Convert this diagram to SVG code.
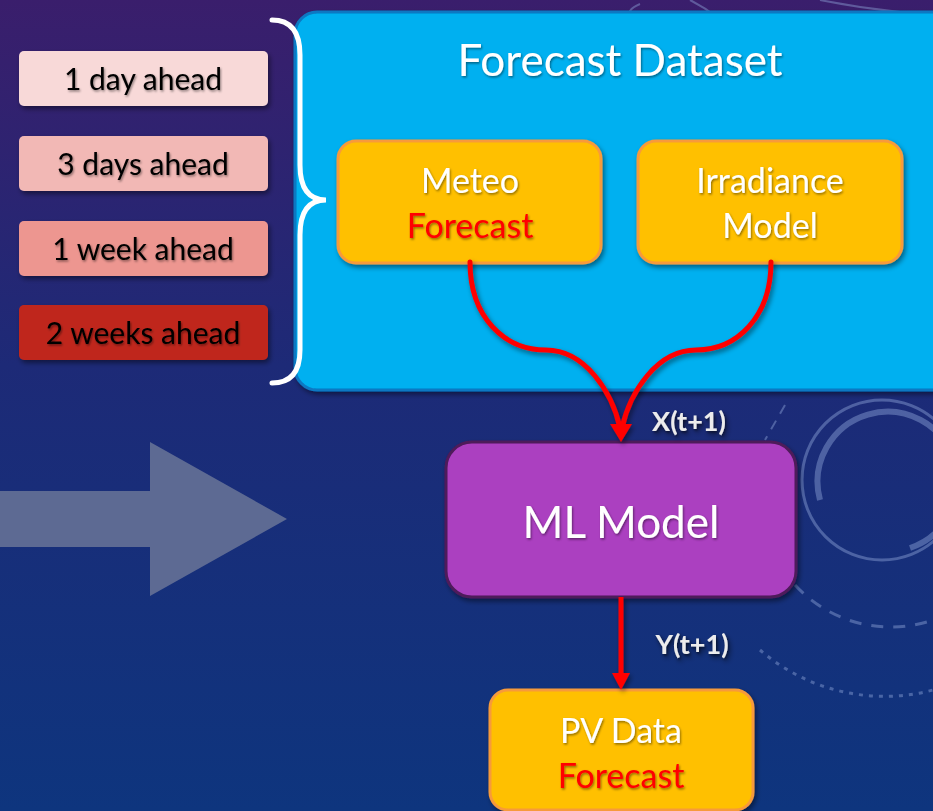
<svg xmlns="http://www.w3.org/2000/svg" width="933" height="811" viewBox="0 0 933 811">
<defs>
<linearGradient id="bg" x1="0" y1="0" x2="0" y2="1">
<stop offset="0" stop-color="#3a1e6c"/>
<stop offset="0.45" stop-color="#1d2a77"/>
<stop offset="1" stop-color="#0e357e"/>
</linearGradient>
<filter id="sh" x="-10%" y="-10%" width="130%" height="130%">
<feDropShadow dx="2" dy="3" stdDeviation="2.5" flood-color="#000" flood-opacity="0.45"/>
</filter>
<filter id="ts" x="-10%" y="-20%" width="130%" height="150%">
<feDropShadow dx="1" dy="1.5" stdDeviation="0.8" flood-color="#000" flood-opacity="0.45"/>
</filter>
<style>
.t{font-family:"Lato","Liberation Sans",sans-serif;text-anchor:middle}
.lbl{font-size:30px;fill:#000}
.w{fill:#ffffff}
.r{fill:#ff0000}
.yb{fill:#ffc000;stroke:#f79a3a;stroke-width:3}
.con{fill:none;stroke:#ff0000;stroke-width:5}
.deco{fill:none;stroke:#8fa3d6;stroke-opacity:0.45}
.xl{font-size:27px;font-weight:bold;fill:#ececec}
</style>
</defs>
<rect width="933" height="811" fill="url(#bg)"/>
<g id="decor">
<circle cx="882" cy="480" r="80" class="deco" stroke-width="3"/>
<path d="M820,500 A70,70 0 1 1 910,548" class="deco" stroke-width="6"/>
<path d="M795,585 A130,130 0 0 0 933,620" class="deco" stroke-width="3" stroke-dasharray="12,10"/>
<path d="M760,650 A190,190 0 0 0 933,690" class="deco" stroke-width="3" stroke-dasharray="4,6"/>
<path d="M785,405 L765,440" class="deco" stroke-width="2" stroke-dasharray="10,8"/>
<path d="M690,0 Q720,15 740,40" class="deco" stroke-width="2"/>
<path d="M820,0 Q860,8 900,12" class="deco" stroke-width="2"/>
<path d="M630,20 Q625,10 640,4" class="deco" stroke-width="2"/>
</g>
<g id="big-arrow">
<polygon points="0,491 150,491 150,442 287,519 150,596 150,547 0,547" fill="#5d6a93"/>
</g>
<g id="h1" filter="url(#sh)">
<rect x="19" y="51" width="249" height="55" rx="5" fill="#f8d9d8"/>
<text x="143" y="90" class="t lbl" filter="url(#ts)">1 day ahead</text>
</g>
<g id="h3" filter="url(#sh)">
<rect x="19" y="136" width="249" height="55" rx="5" fill="#f2b8b5"/>
<text x="143" y="175" class="t lbl" filter="url(#ts)">3 days ahead</text>
</g>
<g id="h7" filter="url(#sh)">
<rect x="19" y="221" width="249" height="55" rx="5" fill="#ed9690"/>
<text x="143" y="260" class="t lbl" filter="url(#ts)">1 week ahead</text>
</g>
<g id="h14" filter="url(#sh)">
<rect x="19" y="305" width="249" height="55" rx="5" fill="#bf271d"/>
<text x="143" y="344" class="t lbl" filter="url(#ts)">2 weeks ahead</text>
</g>
<g id="forecast-dataset" filter="url(#sh)">
<rect x="295" y="12" width="660" height="378" rx="22" fill="#00b0f0" stroke="#0a78c2" stroke-width="3"/>
<text x="620" y="76" class="t w" font-size="44" filter="url(#ts)">Forecast Dataset</text>
</g>
<g id="brace">
<path d="M272,20 Q300,20 300,55 L300,165 Q300,200 326,200 Q300,200 300,235 L300,350 Q300,383 272,383" fill="none" stroke="#ffffff" stroke-width="5" stroke-linecap="round"/>
</g>
<g id="meteo" filter="url(#sh)">
<rect x="338" y="141" width="263" height="122" rx="18" class="yb"/>
<text x="470" y="193" class="t w" font-size="34" filter="url(#ts)">Meteo</text>
<text x="470" y="238" class="t r" font-size="34" filter="url(#ts)">Forecast</text>
</g>
<g id="irradiance" filter="url(#sh)">
<rect x="638" y="141" width="264" height="122" rx="18" class="yb"/>
<text x="770" y="193" class="t w" font-size="34" filter="url(#ts)">Irradiance</text>
<text x="770" y="238" class="t w" font-size="34" filter="url(#ts)">Model</text>
</g>
<g id="ml-model" filter="url(#sh)">
<rect x="446" y="442" width="350" height="155" rx="26" fill="#ab3fc0" stroke="#4e1a5a" stroke-width="3"/>
<text x="621" y="538" class="t w" font-size="44" filter="url(#ts)">ML Model</text>
</g>
<g id="pv" filter="url(#sh)">
<rect x="490" y="690" width="263" height="120" rx="18" class="yb"/>
<text x="621" y="743" class="t w" font-size="34" filter="url(#ts)">PV Data</text>
<text x="621" y="788" class="t r" font-size="34" filter="url(#ts)">Forecast</text>
</g>
<g id="connectors" filter="url(#sh)">
<path d="M470,262 C470,318 505,350 546,350 C585,350 612,392 620,428" class="con" stroke-linecap="round"/>
<path d="M771,262 C771,318 736,350 696,350 C657,350 630,392 622,428" class="con" stroke-linecap="round"/>
<polygon points="610,424 632,424 621,442" fill="#ff0000"/>
<line x1="621" y1="597" x2="621" y2="675" class="con"/>
<polygon points="612,673 630,673 621,690" fill="#ff0000"/>
<text x="689" y="431" class="t xl" filter="url(#ts)">X(t+1)</text>
<text x="692" y="654" class="t xl" filter="url(#ts)">Y(t+1)</text>
</g>
</svg>
